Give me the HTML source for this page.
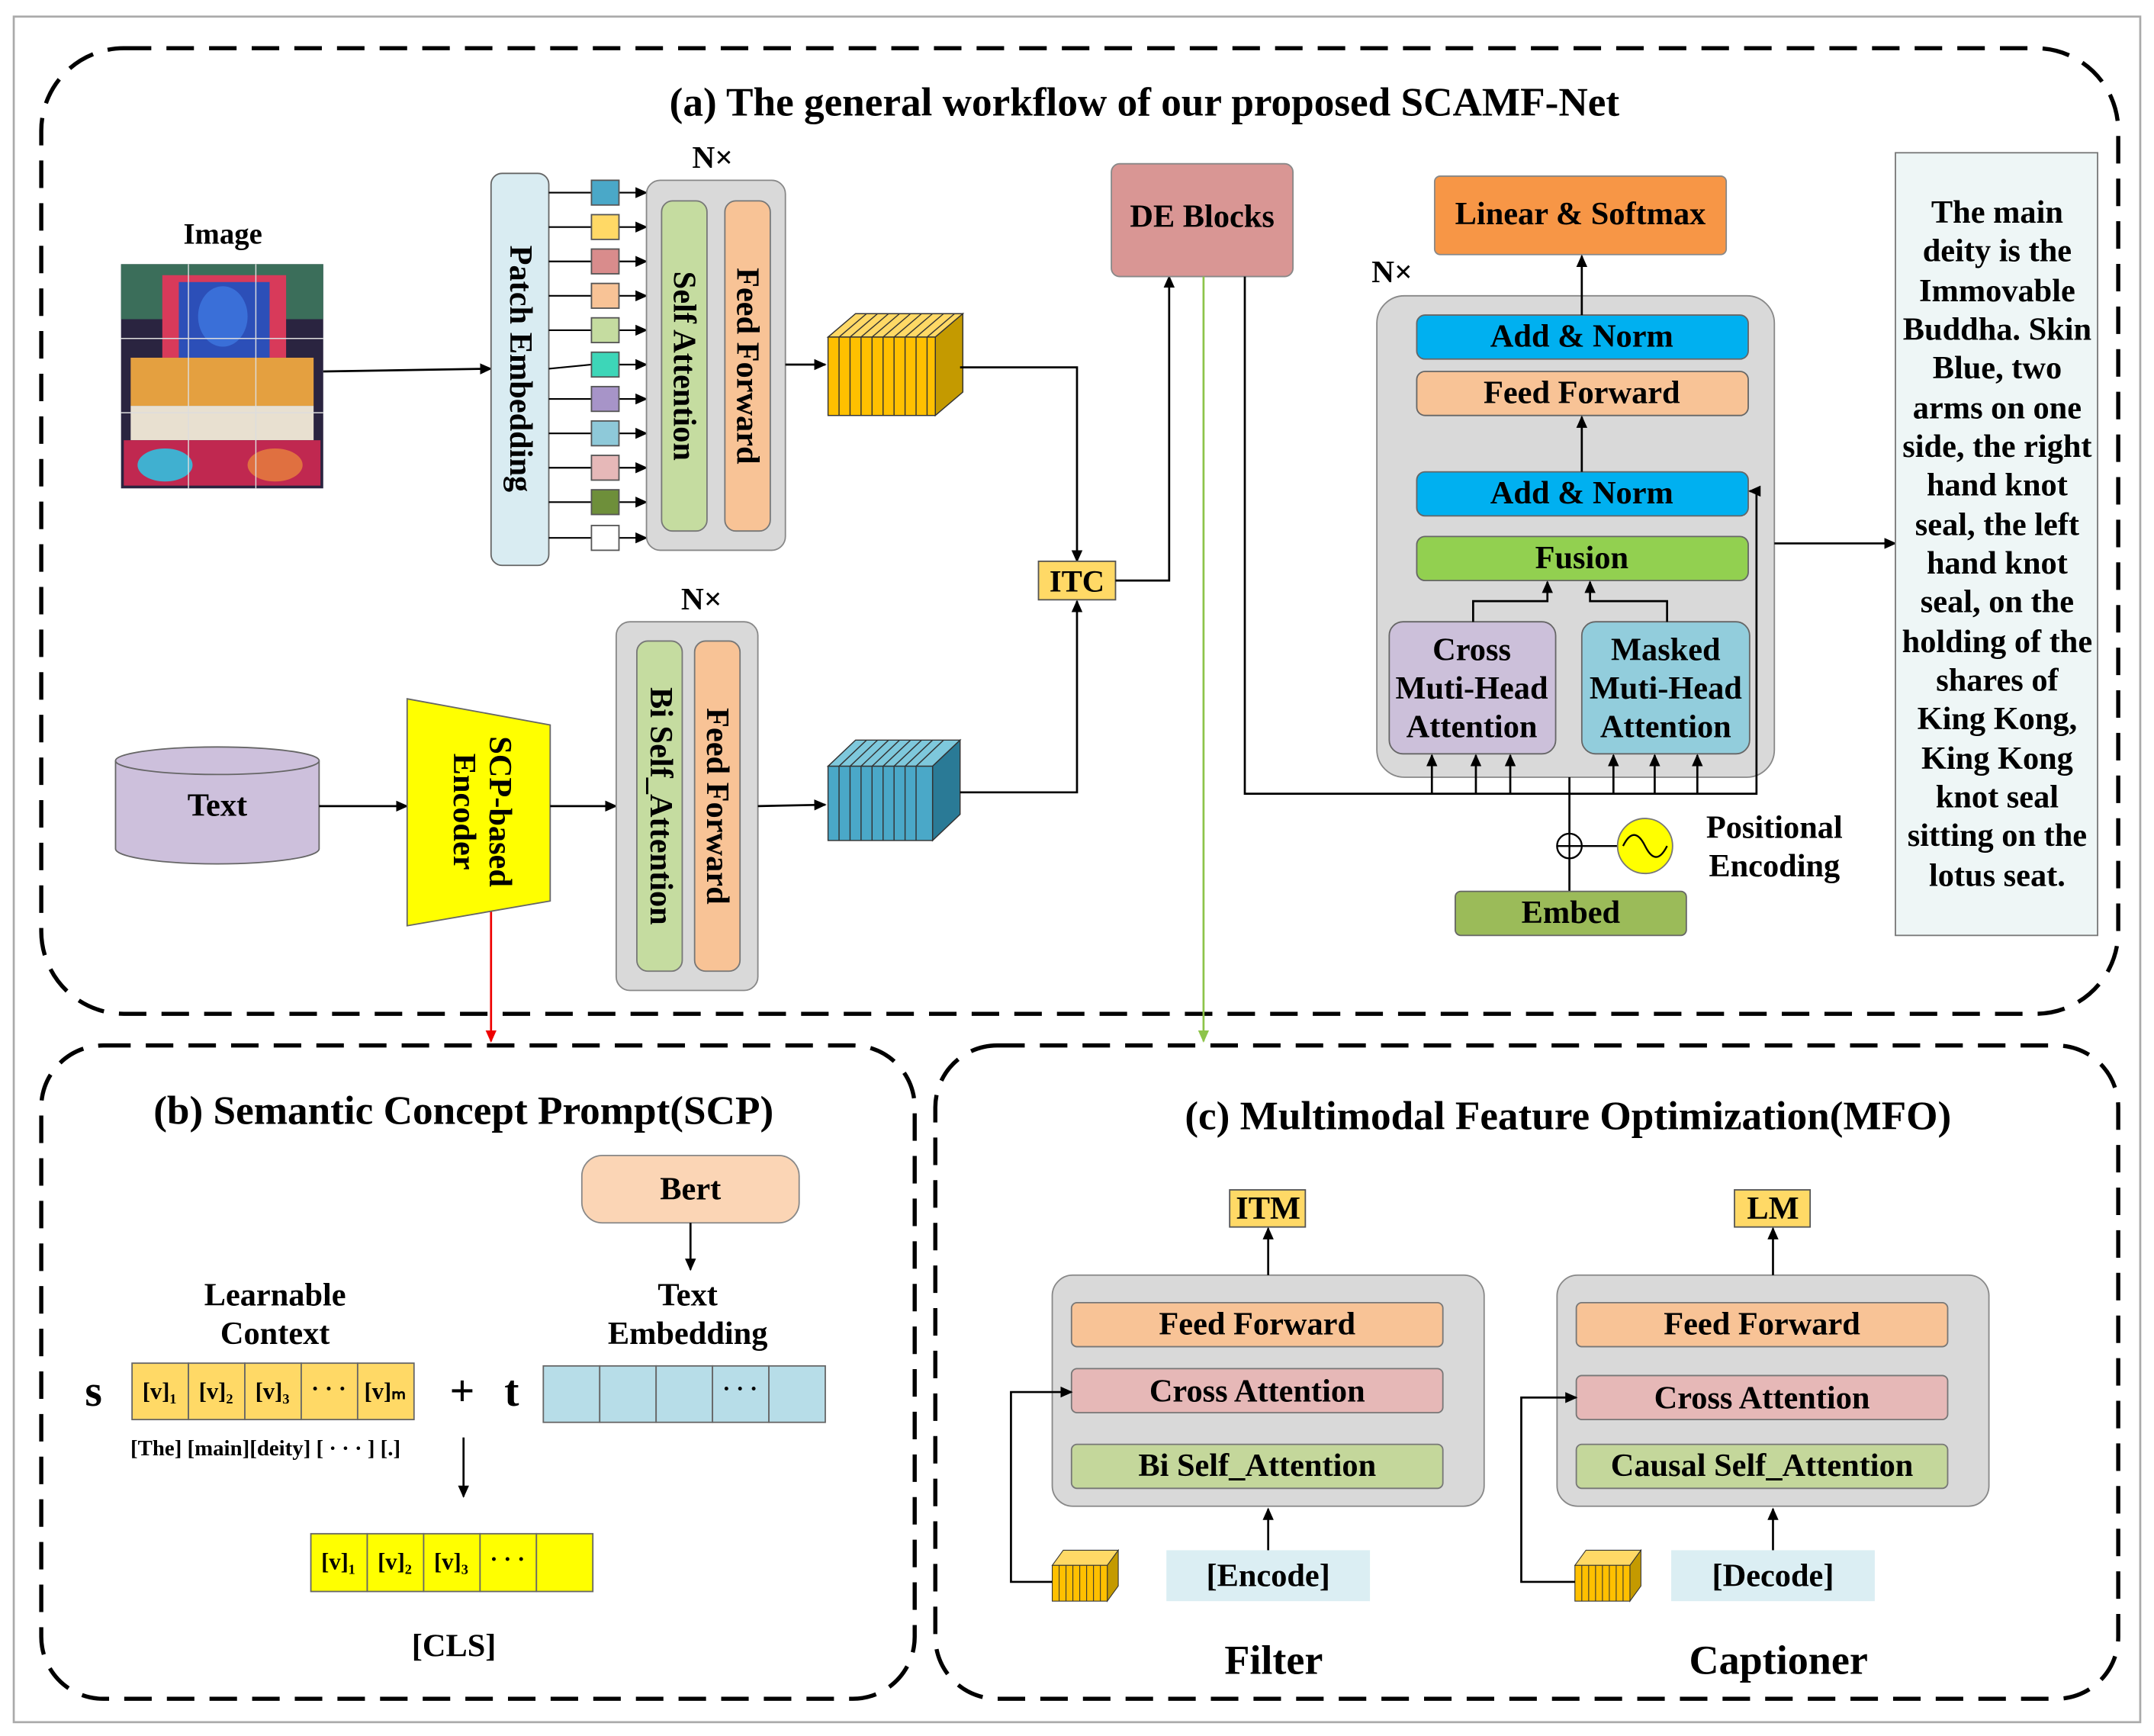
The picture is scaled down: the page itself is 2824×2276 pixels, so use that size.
<!DOCTYPE html>
<html><head><meta charset="utf-8"><style>
html,body{margin:0;padding:0;background:#fff}
svg{display:block}
text{font-family:"Liberation Serif",serif;font-weight:bold;fill:#000}
</style></head><body>
<svg width="2824" height="2276" viewBox="0 0 1566 1262" xmlns="http://www.w3.org/2000/svg">
<defs>
<marker id="a" markerWidth="10" markerHeight="10" refX="8" refY="5" orient="auto" markerUnits="userSpaceOnUse"><path d="M0,1 L9,5 L0,9 z" fill="#000"/></marker>
<marker id="ar" markerWidth="10" markerHeight="10" refX="8" refY="5" orient="auto" markerUnits="userSpaceOnUse"><path d="M0,1 L9,5 L0,9 z" fill="#e00"/></marker>
<marker id="ag" markerWidth="10" markerHeight="10" refX="8" refY="5" orient="auto" markerUnits="userSpaceOnUse"><path d="M0,1 L9,5 L0,9 z" fill="#8dc44a"/></marker>
</defs>
<rect x="10" y="12" width="1546" height="1240" fill="#fff" stroke="#aaa" stroke-width="1.5"/>
<g fill="none" stroke="#000" stroke-width="3" stroke-dasharray="20 11">
<rect x="30" y="35" width="1510" height="702" rx="60"/>
<rect x="30" y="760" width="635" height="475" rx="45"/>
<rect x="680" y="760" width="860" height="475" rx="45"/>
</g>
<text x="832" y="84" font-size="29.5" text-anchor="middle">(a) The general workflow of our proposed SCAMF-Net</text>

<!-- image -->
<text x="162" y="177" font-size="21.5" text-anchor="middle">Image</text>
<rect x="88" y="192" width="147" height="163" fill="#2a2440"/>
<rect x="88" y="192" width="147" height="40" fill="#3b6e5a"/>
<rect x="118" y="200" width="90" height="60" fill="#d83a5a"/>
<rect x="130" y="205" width="66" height="90" fill="#2c4fb8"/>
<ellipse cx="162" cy="230" rx="18" ry="22" fill="#3a6fd8"/>
<rect x="95" y="260" width="133" height="35" fill="#e4a040"/>
<rect x="95" y="295" width="133" height="25" fill="#e8e0d0"/>
<rect x="90" y="320" width="143" height="33" fill="#c02850"/>
<ellipse cx="120" cy="338" rx="20" ry="12" fill="#40b0d0"/>
<ellipse cx="200" cy="338" rx="20" ry="12" fill="#e07040"/>
<g stroke="#ddd" stroke-width="0.8"><line x1="137" y1="192" x2="137" y2="355"/><line x1="186" y1="192" x2="186" y2="355"/><line x1="88" y1="246" x2="235" y2="246"/><line x1="88" y1="300" x2="235" y2="300"/></g>
<line x1="235" y1="270" x2="357" y2="268" stroke="#000" stroke-width="1.5" marker-end="url(#a)"/>

<rect x="357" y="126" width="42" height="285" rx="8" fill="#d9ecf2" stroke="#666"/>
<text transform="translate(371,268) rotate(90)" font-size="23.5" text-anchor="middle">Patch Embedding</text>
<g stroke="#000" stroke-width="1.2">
<line x1="399" y1="140" x2="430" y2="140"/><line x1="399" y1="165" x2="430" y2="165"/><line x1="399" y1="190" x2="430" y2="190"/><line x1="399" y1="215" x2="430" y2="215"/><line x1="399" y1="240" x2="430" y2="240"/><line x1="399" y1="268" x2="430" y2="265"/><line x1="399" y1="290" x2="430" y2="290"/><line x1="399" y1="315" x2="430" y2="315"/><line x1="399" y1="340" x2="430" y2="340"/><line x1="399" y1="365" x2="430" y2="365"/><line x1="399" y1="391" x2="430" y2="391"/>
</g>
<g stroke="#000" stroke-width="1.2" marker-end="url(#a)">
<line x1="450" y1="140" x2="470" y2="140"/><line x1="450" y1="165" x2="470" y2="165"/><line x1="450" y1="190" x2="470" y2="190"/><line x1="450" y1="215" x2="470" y2="215"/><line x1="450" y1="240" x2="470" y2="240"/><line x1="450" y1="265" x2="470" y2="265"/><line x1="450" y1="290" x2="470" y2="290"/><line x1="450" y1="315" x2="470" y2="315"/><line x1="450" y1="340" x2="470" y2="340"/><line x1="450" y1="365" x2="470" y2="365"/><line x1="450" y1="391" x2="470" y2="391"/>
</g>
<g stroke="#555" stroke-width="1">
<rect x="430" y="131" width="20" height="18" fill="#4aa8c8"/><rect x="430" y="156" width="20" height="18" fill="#ffd966"/><rect x="430" y="181" width="20" height="18" fill="#d98c8c"/><rect x="430" y="206" width="20" height="18" fill="#f8c396"/><rect x="430" y="231" width="20" height="18" fill="#c5dca0"/><rect x="430" y="256" width="20" height="18" fill="#3dd6b8"/><rect x="430" y="281" width="20" height="18" fill="#a794c8"/><rect x="430" y="306" width="20" height="18" fill="#8ec9d9"/><rect x="430" y="331" width="20" height="18" fill="#e6b8b8"/><rect x="430" y="356" width="20" height="18" fill="#6e8f3a"/><rect x="430" y="382" width="20" height="18" fill="#fff"/>
</g>
<text x="518" y="122" font-size="23" text-anchor="middle">N×</text>
<rect x="470" y="131" width="101" height="269" rx="10" fill="#d9d9d9" stroke="#888"/>
<rect x="481" y="146" width="33" height="240" rx="8" fill="#c5dca0" stroke="#777"/>
<rect x="527" y="146" width="33" height="240" rx="8" fill="#f8c396" stroke="#777"/>
<text transform="translate(490,266) rotate(90)" font-size="23.5" text-anchor="middle">Self Attention</text>
<text transform="translate(536,266) rotate(90)" font-size="23.5" text-anchor="middle">Feed Forward</text>
<line x1="571" y1="265" x2="600" y2="265" stroke="#000" stroke-width="1.5" marker-end="url(#a)"/>

<g stroke="#333" stroke-width="0.8">
<polygon points="602,245 622,228 700,228 680,245" fill="#ffd966"/>
<polygon points="680,245 700,228 700,285 680,302" fill="#c49a00"/>
<rect x="602" y="245" width="78" height="57" fill="#ffc000"/>
<path d="M610,245V302M618,245V302M626,245V302M634,245V302M642,245V302M650,245V302M658,245V302M666,245V302M674,245V302M610,245l20,-17M618,245l20,-17M626,245l20,-17M634,245l20,-17M642,245l20,-17M650,245l20,-17M658,245l20,-17M666,245l20,-17M674,245l20,-17" fill="none"/>
</g>
<polyline points="698,267 783,267 783,408" fill="none" stroke="#000" stroke-width="1.5" marker-end="url(#a)"/>
<rect x="755" y="408" width="56" height="28" fill="#ffd966" stroke="#555"/>
<text x="783" y="430" font-size="22.5" text-anchor="middle">ITC</text>
<polyline points="811,422 850,422 850,201" fill="none" stroke="#000" stroke-width="1.5" marker-end="url(#a)"/>
<rect x="808" y="119" width="132" height="82" rx="6" fill="#d99694" stroke="#888"/>
<text x="874" y="165" font-size="23.5" text-anchor="middle">DE Blocks</text>
<line x1="875" y1="201" x2="875" y2="757" stroke="#8dc44a" stroke-width="1.5" marker-end="url(#ag)"/>
<line x1="357" y1="660" x2="357" y2="757" stroke="#e00" stroke-width="1.5" marker-end="url(#ar)"/>

<path d="M84,553 V617 A74,11 0 0 0 232,617 V553" fill="#cdc0dc" stroke="#666"/>
<ellipse cx="158" cy="553" rx="74" ry="10" fill="#cdc0dc" stroke="#666"/>
<text x="158" y="593" font-size="23.5" text-anchor="middle">Text</text>
<line x1="232" y1="586" x2="296" y2="586" stroke="#000" stroke-width="1.5" marker-end="url(#a)"/>
<polygon points="296,508 400,527 400,655 296,673" fill="#ffff00" stroke="#666"/>
<text transform="translate(356,590) rotate(90)" font-size="23.5" text-anchor="middle">SCP-based</text>
<text transform="translate(330,590) rotate(90)" font-size="23.5" text-anchor="middle">Encoder</text>
<line x1="400" y1="586" x2="448" y2="586" stroke="#000" stroke-width="1.5" marker-end="url(#a)"/>
<text x="510" y="443" font-size="23" text-anchor="middle">N×</text>
<rect x="448" y="452" width="103" height="268" rx="10" fill="#d9d9d9" stroke="#888"/>
<rect x="463" y="466" width="33" height="240" rx="8" fill="#c5dca0" stroke="#777"/>
<rect x="505" y="466" width="33" height="240" rx="8" fill="#f8c396" stroke="#777"/>
<text transform="translate(473,586) rotate(90)" font-size="23.5" text-anchor="middle">Bi Self_Attention</text>
<text transform="translate(514,586) rotate(90)" font-size="23.5" text-anchor="middle">Feed Forward</text>
<line x1="551" y1="586" x2="600" y2="585" stroke="#000" stroke-width="1.5" marker-end="url(#a)"/>
<g stroke="#333" stroke-width="0.8">
<polygon points="602,557 622,538 698,538 678,557" fill="#7ec8dc"/>
<polygon points="678,557 698,538 698,592 678,611" fill="#2a7a96"/>
<rect x="602" y="557" width="76" height="54" fill="#4aa8c8"/>
<path d="M610,557V611M618,557V611M626,557V611M634,557V611M642,557V611M650,557V611M658,557V611M666,557V611M610,557l20,-19M618,557l20,-19M626,557l20,-19M634,557l20,-19M642,557l20,-19M650,557l20,-19M658,557l20,-19M666,557l20,-19" fill="none"/>
</g>
<polyline points="698,576 783,576 783,437" fill="none" stroke="#000" stroke-width="1.5" marker-end="url(#a)"/>

<text x="1012" y="205" font-size="23" text-anchor="middle">N×</text>
<rect x="1001" y="215" width="289" height="350" rx="20" fill="#d9d9d9" stroke="#888"/>
<rect x="1043" y="128" width="212" height="57" rx="4" fill="#f79646" stroke="#888"/>
<text x="1149" y="163" font-size="23.5" text-anchor="middle">Linear &amp; Softmax</text>
<rect x="1030" y="229" width="241" height="32" rx="6" fill="#00b0f0" stroke="#666"/>
<text x="1150" y="252" font-size="23.5" text-anchor="middle">Add &amp; Norm</text>
<rect x="1030" y="270" width="241" height="32" rx="6" fill="#f8c396" stroke="#666"/>
<text x="1150" y="293" font-size="23.5" text-anchor="middle">Feed Forward</text>
<rect x="1030" y="343" width="241" height="32" rx="6" fill="#00b0f0" stroke="#666"/>
<text x="1150" y="366" font-size="23.5" text-anchor="middle">Add &amp; Norm</text>
<rect x="1030" y="390" width="241" height="32" rx="6" fill="#92d050" stroke="#666"/>
<text x="1150" y="413" font-size="23.5" text-anchor="middle">Fusion</text>
<rect x="1010" y="452" width="121" height="96" rx="10" fill="#ccc0da" stroke="#666"/>
<text x="1070" y="480" font-size="23.5" text-anchor="middle">Cross</text>
<text x="1070" y="508" font-size="23.5" text-anchor="middle">Muti-Head</text>
<text x="1070" y="536" font-size="23.5" text-anchor="middle">Attention</text>
<rect x="1150" y="452" width="122" height="96" rx="10" fill="#92cddc" stroke="#666"/>
<text x="1211" y="480" font-size="23.5" text-anchor="middle">Masked</text>
<text x="1211" y="508" font-size="23.5" text-anchor="middle">Muti-Head</text>
<text x="1211" y="536" font-size="23.5" text-anchor="middle">Attention</text>
<g fill="none" stroke="#000" stroke-width="1.5" marker-end="url(#a)">
<line x1="1150" y1="229" x2="1150" y2="186"/>
<line x1="1150" y1="343" x2="1150" y2="303"/>
<polyline points="1071,452 1071,437 1125,437 1125,423"/>
<polyline points="1212,452 1212,437 1156,437 1156,423"/>
<line x1="1290" y1="395" x2="1378" y2="395"/>
<polyline points="905,201 905,577 1277,577 1277,357 1272,357"/>
<line x1="1041" y1="577" x2="1041" y2="549"/>
<line x1="1073" y1="577" x2="1073" y2="549"/>
<line x1="1098" y1="577" x2="1098" y2="549"/>
<line x1="1173" y1="577" x2="1173" y2="549"/>
<line x1="1203" y1="577" x2="1203" y2="549"/>
<line x1="1234" y1="577" x2="1234" y2="549"/>
</g>
<line x1="1141" y1="648" x2="1141" y2="565" stroke="#000" stroke-width="1.5"/>
<circle cx="1141" cy="615" r="9" fill="#fff" stroke="#000" stroke-width="1.3"/>
<path d="M1132,615h18M1141,606v18" stroke="#000" stroke-width="1.3"/>
<line x1="1150" y1="615" x2="1176" y2="615" stroke="#000" stroke-width="1.3"/>
<circle cx="1196" cy="615" r="20" fill="#ffff00" stroke="#777"/>
<path d="M1180,615 q8,-16 16,0 t16,0" fill="none" stroke="#000" stroke-width="1.3"/>
<text x="1290" y="609" font-size="23.5" text-anchor="middle">Positional</text>
<text x="1290" y="637" font-size="23.5" text-anchor="middle">Encoding</text>
<rect x="1058" y="648" width="168" height="32" rx="4" fill="#9bbb59" stroke="#666"/>
<text x="1142" y="671" font-size="23.5" text-anchor="middle">Embed</text>

<rect x="1378" y="111" width="147" height="569" fill="#eef6f6" stroke="#777"/>
<g font-size="23.5" text-anchor="middle">
<text x="1452" y="162">The main</text><text x="1452" y="190">deity is the</text><text x="1452" y="219">Immovable</text><text x="1452" y="247">Buddha. Skin</text><text x="1452" y="275">Blue, two</text><text x="1452" y="304">arms on one</text><text x="1452" y="332">side, the right</text><text x="1452" y="360">hand knot</text><text x="1452" y="389">seal, the left</text><text x="1452" y="417">hand knot</text><text x="1452" y="445">seal, on the</text><text x="1452" y="474">holding of the</text><text x="1452" y="502">shares of</text><text x="1452" y="530">King Kong,</text><text x="1452" y="559">King Kong</text><text x="1452" y="587">knot seal</text><text x="1452" y="615">sitting on the</text><text x="1452" y="644">lotus seat.</text>
</g>

<text x="337" y="817" font-size="29.5" text-anchor="middle">(b) Semantic Concept Prompt(SCP)</text>
<rect x="423" y="840" width="158" height="49" rx="15" fill="#fbd5b5" stroke="#888"/>
<text x="502" y="872" font-size="23.5" text-anchor="middle">Bert</text>
<line x1="502" y1="889" x2="502" y2="923" stroke="#000" stroke-width="1.5" marker-end="url(#a)"/>
<text x="500" y="949" font-size="23.5" text-anchor="middle">Text</text>
<text x="500" y="977" font-size="23.5" text-anchor="middle">Embedding</text>
<text x="200" y="949" font-size="23.5" text-anchor="middle">Learnable</text>
<text x="200" y="977" font-size="23.5" text-anchor="middle">Context</text>
<text x="68" y="1022" font-size="32" text-anchor="middle">s</text>
<g stroke="#666" fill="#ffd966">
<rect x="96" y="991" width="41" height="41"/><rect x="137" y="991" width="41" height="41"/><rect x="178" y="991" width="41" height="41"/><rect x="219" y="991" width="41" height="41"/><rect x="260" y="991" width="41" height="41"/>
</g>
<g font-size="17" text-anchor="middle">
<text x="116" y="1017">[v]₁</text><text x="157" y="1017">[v]₂</text><text x="198" y="1017">[v]₃</text><text x="239" y="1015">· · ·</text><text x="280" y="1017">[v]ₘ</text>
</g>
<text x="336" y="1022" font-size="32" text-anchor="middle" font-weight="normal">+</text>
<text x="372" y="1022" font-size="32" text-anchor="middle">t</text>
<g stroke="#666" fill="#b7dde8">
<rect x="395" y="993" width="41" height="41"/><rect x="436" y="993" width="41" height="41"/><rect x="477" y="993" width="41" height="41"/><rect x="518" y="993" width="41" height="41"/><rect x="559" y="993" width="41" height="41"/>
</g>
<text x="538" y="1015" font-size="17" text-anchor="middle">· · ·</text>
<text x="193" y="1058" font-size="16" text-anchor="middle" font-weight="normal">[The] [main][deity] [ · · · ] [.]</text>
<line x1="337" y1="1045" x2="337" y2="1088" stroke="#000" stroke-width="1.5" marker-end="url(#a)"/>
<g stroke="#666" fill="#ffff00">
<rect x="226" y="1115" width="41" height="42"/><rect x="267" y="1115" width="41" height="42"/><rect x="308" y="1115" width="41" height="42"/><rect x="349" y="1115" width="41" height="42"/><rect x="390" y="1115" width="41" height="42"/>
</g>
<g font-size="17" text-anchor="middle">
<text x="246" y="1141">[v]₁</text><text x="287" y="1141">[v]₂</text><text x="328" y="1141">[v]₃</text><text x="369" y="1139">· · ·</text>
</g>
<text x="330" y="1204" font-size="23.5" text-anchor="middle">[CLS]</text>

<text x="1140" y="821" font-size="29.5" text-anchor="middle">(c) Multimodal Feature Optimization(MFO)</text>
<rect x="765" y="927" width="314" height="168" rx="15" fill="#d9d9d9" stroke="#888"/>
<rect x="779" y="947" width="270" height="32" rx="4" fill="#f8c396" stroke="#777"/>
<rect x="779" y="995" width="270" height="32" rx="4" fill="#e6b8b7" stroke="#777"/>
<rect x="779" y="1050" width="270" height="32" rx="4" fill="#c4d79b" stroke="#777"/>
<rect x="894" y="865" width="55" height="27" fill="#ffd966" stroke="#555"/>
<line x1="922" y1="927" x2="922" y2="893" stroke="#000" stroke-width="1.5" marker-end="url(#a)"/>
<rect x="848" y="1127" width="148" height="37" fill="#dbeef3"/>
<line x1="922" y1="1127" x2="922" y2="1097" stroke="#000" stroke-width="1.5" marker-end="url(#a)"/>
<g stroke="#333" stroke-width="0.6">
<polygon points="765,1138 773,1127 813,1127 805,1138" fill="#ffd966"/>
<polygon points="805,1138 813,1127 813,1153 805,1164" fill="#c49a00"/>
<rect x="765" y="1138" width="40" height="26" fill="#ffc000"/>
<path d="M770,1138V1164M775,1138V1164M780,1138V1164M785,1138V1164M790,1138V1164M795,1138V1164M800,1138V1164" fill="none"/>
</g>
<polyline points="765,1150 735,1150 735,1012 779,1012" fill="none" stroke="#000" stroke-width="1.5" marker-end="url(#a)"/>
<g font-size="23.5" text-anchor="middle">
<text x="914" y="970">Feed Forward</text><text x="914" y="1019">Cross Attention</text><text x="914" y="1073">Bi Self_Attention</text>
<text x="922" y="886">ITM</text><text x="922" y="1153" font-weight="normal">[Encode]</text>
<text x="926" y="1217" font-size="30">Filter</text>
</g>
<rect x="1132" y="927" width="314" height="168" rx="15" fill="#d9d9d9" stroke="#888"/>
<rect x="1146" y="947" width="270" height="32" rx="4" fill="#f8c396" stroke="#777"/>
<rect x="1146" y="1000" width="270" height="32" rx="4" fill="#e6b8b7" stroke="#777"/>
<rect x="1146" y="1050" width="270" height="32" rx="4" fill="#c4d79b" stroke="#777"/>
<rect x="1261" y="865" width="55" height="27" fill="#ffd966" stroke="#555"/>
<line x1="1289" y1="927" x2="1289" y2="893" stroke="#000" stroke-width="1.5" marker-end="url(#a)"/>
<rect x="1215" y="1127" width="148" height="37" fill="#dbeef3"/>
<line x1="1289" y1="1127" x2="1289" y2="1097" stroke="#000" stroke-width="1.5" marker-end="url(#a)"/>
<g stroke="#333" stroke-width="0.6">
<polygon points="1145,1138 1153,1127 1193,1127 1185,1138" fill="#ffd966"/>
<polygon points="1185,1138 1193,1127 1193,1153 1185,1164" fill="#c49a00"/>
<rect x="1145" y="1138" width="40" height="26" fill="#ffc000"/>
<path d="M1150,1138V1164M1155,1138V1164M1160,1138V1164M1165,1138V1164M1170,1138V1164M1175,1138V1164M1180,1138V1164" fill="none"/>
</g>
<polyline points="1145,1150 1106,1150 1106,1016 1146,1016" fill="none" stroke="#000" stroke-width="1.5" marker-end="url(#a)"/>
<g font-size="23.5" text-anchor="middle">
<text x="1281" y="970">Feed Forward</text><text x="1281" y="1024">Cross Attention</text><text x="1281" y="1073">Causal Self_Attention</text>
<text x="1289" y="886">LM</text><text x="1289" y="1153" font-weight="normal">[Decode]</text>
<text x="1293" y="1217" font-size="30">Captioner</text>
</g>
</svg>
</body></html>
